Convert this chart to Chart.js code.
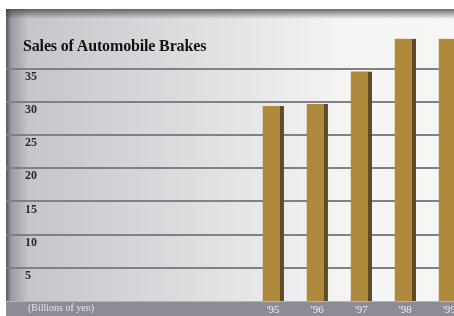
<!DOCTYPE html>
<html>
<head>
<meta charset="utf-8">
<script src="https://cdn.jsdelivr.net/npm/chart.js@4"></script>
<style>
  html, body { margin: 0; padding: 0; background: #fff; overflow: hidden; }
  #wrap { position: relative; width: 454px; height: 316px; }
  #chart { position: absolute; left: 0; top: 0; }
  .title { position: absolute; left: 23px; top: 37px; font: bold 16px "Liberation Serif", serif; color: #111; letter-spacing: -0.15px; }
  .unit { position: absolute; left: 28px; top: 302px; font: 10px "Liberation Serif", serif; color: #e4e4ec; }
</style>
</head>
<body>
<div id="wrap">
  <canvas id="chart" width="454" height="316"></canvas>
  <div class="title">Sales of Automobile Brakes</div>
  <div class="unit">(Billions of yen)</div>
</div>
<script>
const years = [1995, 1996, 1997, 1998, 1999];
const yearLabels = ["'95", "'96", "'97", "'98", "'99"];
const sales = [29.4, 29.7, 34.6, 39.5, 39.5];
const yTicks = [5, 10, 15, 20, 25, 30, 35];

// no automatic label padding, the panel fills the canvas
function noPadding(s) {
    s.paddingTop = s.paddingBottom = s.paddingLeft = s.paddingRight = 0;
}

// panel background, left shading and bottom band
const panelBg = {
    id: 'panelBg',
    beforeDraw(chart) {
        const { ctx, chartArea } = chart;
        const w = chart.width, h = chart.height;
        ctx.save();
        const g = ctx.createLinearGradient(chartArea.left, 0, w, 0);
        g.addColorStop(0, '#55575c');
        g.addColorStop(0.012, '#9a9ca2');
        g.addColorStop(0.05, '#c4c6ca');
        g.addColorStop(0.3, '#d4d6d9');
        g.addColorStop(0.55, '#e6e7e8');
        g.addColorStop(0.75, '#f4f4f2');
        g.addColorStop(1, '#f6f6f4');
        ctx.fillStyle = g;
        ctx.fillRect(chartArea.left, chartArea.top, w - chartArea.left, chartArea.bottom - chartArea.top);
        // top shadow
        const t = ctx.createLinearGradient(0, chartArea.top, 0, chartArea.top + 10);
        t.addColorStop(0, 'rgba(60,62,68,0.75)');
        t.addColorStop(1, 'rgba(60,62,68,0)');
        ctx.fillStyle = t;
        ctx.fillRect(chartArea.left, chartArea.top, w - chartArea.left, 10);
        // bottom band
        ctx.fillStyle = '#8b8c95';
        ctx.fillRect(chartArea.left, chartArea.bottom, w - chartArea.left, h - chartArea.bottom);
        ctx.fillStyle = 'rgba(255,255,255,0.35)';
        ctx.fillRect(chartArea.left, chartArea.bottom, w - chartArea.left, 1);
        ctx.restore();
    }
};

new Chart(document.getElementById('chart'), {
    type: 'bar',
    data: {
        datasets: [{
            data: years.map((x, i) => ({ x, y: sales[i] })),
            backgroundColor: '#b08a3c',
            borderColor: '#5e4a26',
            borderWidth: { left: 0, top: 0, bottom: 0, right: 4 },
            borderSkipped: false,
            barThickness: 21
        }]
    },
    options: {
        responsive: false,
        animation: false,
        layout: { autoPadding: false, padding: { left: 6, top: 9, right: 0, bottom: 0 } },
        scales: {
            x: {
                type: 'linear',
                offset: false,
                min: 1988.93,
                max: 1999.11,
                grid: { display: false, drawTicks: false },
                border: { display: false },
                afterBuildTicks: s => { s.ticks = years.map(v => ({ value: v })); },
                afterFit: s => { s.height = 15; noPadding(s); },
                ticks: {
                    padding: 3,
                    color: '#eeeef2',
                    font: { family: 'Liberation Serif', size: 11 },
                    callback: v => yearLabels[years.indexOf(v)]
                }
            },
            y: {
                min: 0,
                max: 44,
                border: { display: false },
                grid: { color: '#7e8188', lineWidth: 2, drawTicks: false },
                afterBuildTicks: s => { s.ticks = yTicks.map(v => ({ value: v })); },
                afterFit: s => { s.width = 0; noPadding(s); },
                ticks: {
                    mirror: true,
                    padding: 19,
                    labelOffset: 8,
                    color: '#2a2a2a',
                    font: { family: 'Liberation Serif', size: 12, weight: 'bold' }
                }
            }
        },
        plugins: { legend: { display: false }, tooltip: { enabled: false } }
    },
    plugins: [panelBg]
});
</script>
</body>
</html>
